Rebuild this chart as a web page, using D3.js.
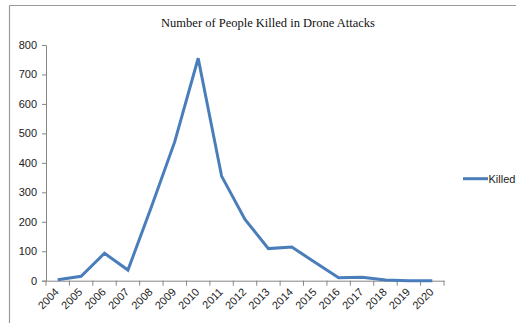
<!DOCTYPE html>
<html><head><meta charset="utf-8">
<script src="https://cdn.jsdelivr.net/npm/d3@7"></script>
<style>body{margin:0;background:#fff}svg{display:block}</style>
</head><body>
<svg id="c" width="516" height="323"></svg>
<script>
const years = ["2004","2005","2006","2007","2008","2009","2010","2011","2012","2013","2014","2015","2016","2017","2018","2019","2020"];
const killed = [3,15,93,36,250,472,755,355,208,109,114,62,10,12,2,0,0];
const yTicks = [0,100,200,300,400,500,600,700,800];
const seriesName = "Killed";
const titleText = "Number of People Killed in Drone Attacks";

(function(){
const svg = d3.select("#c");
const W = 516, H = 323;
const mLeft = 46, mRight = 444, mTop = 45, mBottom = 280.7;

// frame
svg.append("line").attr("x1",9.5).attr("x2",W).attr("y1",5.5).attr("y2",5.5).attr("stroke","#9a9a9a").attr("stroke-width",1.2);
svg.append("line").attr("x1",9.5).attr("x2",9.5).attr("y1",5.5).attr("y2",H).attr("stroke","#9a9a9a").attr("stroke-width",1.2);

const x = d3.scaleBand().domain(years).range([mLeft, mRight]).padding(0);
const y = d3.scaleLinear().domain([0,800]).range([mBottom, mTop]);

// y axis
const ya = svg.append("g").attr("transform",`translate(${mLeft},0)`)
  .call(d3.axisLeft(y).tickValues(yTicks).tickSize(4).tickPadding(5).tickFormat(d3.format("d")));
ya.selectAll("path,line").attr("stroke","#868686");
ya.selectAll("text").attr("font-family","'Liberation Sans', Arial, sans-serif").attr("font-size","11px").attr("fill","#222");

// x axis
const xa = svg.append("g").attr("transform",`translate(0,${mBottom})`)
  .call(d3.axisBottom(x).tickSize(0).tickSizeOuter(0));
xa.select("path").attr("stroke","#868686");
xa.selectAll(".tick line").remove();
const bounds = years.map(d => x(d)).concat([mRight]);
xa.selectAll(".bt").data(bounds).enter().append("line").attr("class","bt")
  .attr("x1",d=>d).attr("x2",d=>d).attr("y1",0).attr("y2",5).attr("stroke","#868686");
xa.selectAll(".tick text")
  .attr("font-family","'Liberation Sans', Arial, sans-serif").attr("font-size","11px").attr("fill","#222")
  .attr("text-anchor","end").attr("dy","0").attr("y",0)
  .attr("transform","translate(2,12) rotate(-45)");

// line
const line = d3.line().x((d,i)=>x(years[i]) + x.bandwidth()/2).y(d=>y(d));
svg.append("path").datum(killed).attr("d",line).attr("fill","none")
  .attr("stroke","#4a7ebb").attr("stroke-width",3).attr("stroke-linejoin","miter");

// title
svg.append("text").attr("x",268).attr("y",27).attr("text-anchor","middle")
  .attr("font-family","'Liberation Serif', 'Times New Roman', serif").attr("font-size","12.5px").attr("fill","#111")
  .text(titleText);

// legend
svg.append("line").attr("x1",463).attr("x2",488).attr("y1",178.7).attr("y2",178.7)
  .attr("stroke","#4a7ebb").attr("stroke-width",3);
svg.append("text").attr("x",488.5).attr("y",182.7)
  .attr("font-family","'Liberation Sans', Arial, sans-serif").attr("font-size","11px").attr("fill","#222")
  .text(seriesName);
})();
</script>
</body></html>
